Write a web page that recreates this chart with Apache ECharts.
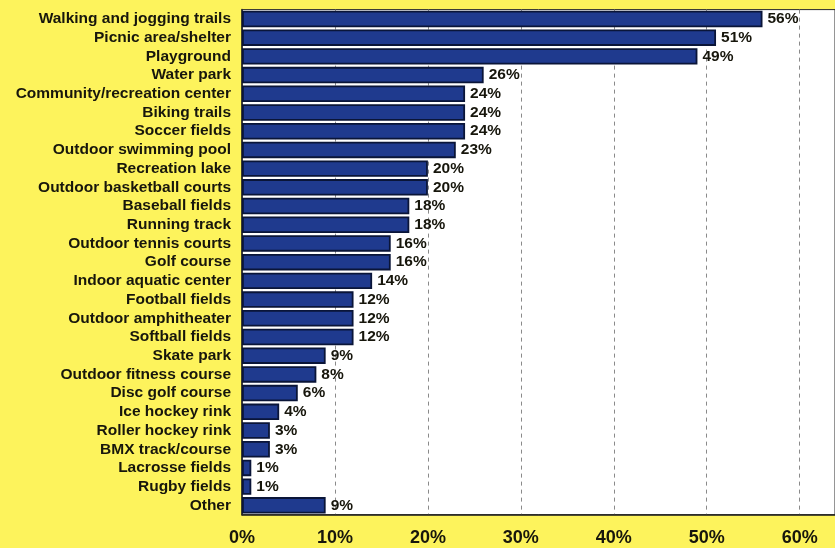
<!DOCTYPE html>
<html>
<head>
<meta charset="utf-8">
<script src="https://cdn.jsdelivr.net/npm/echarts@6/dist/echarts.min.js"></script>
<style>
  html, body { margin: 0; padding: 0; background: #fdf35c; }
  #chart { width: 835px; height: 548px; }
</style>
</head>
<body>
<div id="chart"></div>
<script>
// Facilities and share of respondents (%)
const facilities = [
  'Walking and jogging trails', 'Picnic area/shelter', 'Playground', 'Water park',
  'Community/recreation center', 'Biking trails', 'Soccer fields', 'Outdoor swimming pool',
  'Recreation lake', 'Outdoor basketball courts', 'Baseball fields', 'Running track',
  'Outdoor tennis courts', 'Golf course', 'Indoor aquatic center', 'Football fields',
  'Outdoor amphitheater', 'Softball fields', 'Skate park', 'Outdoor fitness course',
  'Disc golf course', 'Ice hockey rink', 'Roller hockey rink', 'BMX track/course',
  'Lacrosse fields', 'Rugby fields', 'Other'
];
const shares = [56, 51, 49, 26, 24, 24, 24, 23, 20, 20, 18, 18, 16, 16, 14, 12, 12, 12, 9, 8, 6, 4, 3, 3, 1, 1, 9];
const tickValues = [0, 10, 20, 30, 40, 50, 60];

const chart = echarts.init(document.getElementById('chart'));
const textColor = '#17160c';
const font = '"Liberation Sans", Arial, sans-serif';
chart.setOption({
  backgroundColor: '#fdf35c',
  animation: false,
  grid: {
    left: 242, right: -2, top: 9.6, bottom: 33.3,
    show: true, backgroundColor: '#ffffff', borderColor: '#2a2a2a', borderWidth: 1
  },
  xAxis: {
    type: 'value', min: 0, max: 63.8, interval: 10,
    axisLine: { show: true, lineStyle: { color: '#222', width: 1.5 } },
    axisTick: { show: false },
    axisLabel: {
      showMaxLabel: false,
      formatter: v => tickValues.includes(v) ? v + '%' : '',
      color: textColor, fontFamily: font,
      fontWeight: 'bold', fontSize: 18, margin: 14
    },
    splitLine: { show: true, lineStyle: { color: '#8a8a8a', type: [4, 4], width: 1 } }
  },
  yAxis: {
    type: 'category', data: facilities, inverse: true,
    axisLine: { show: true, lineStyle: { color: '#222', width: 1.5 } },
    axisTick: { show: false },
    axisLabel: {
      interval: 0,
      color: textColor, fontFamily: font,
      fontWeight: 'bold', fontSize: 15.5, margin: 11
    },
    splitLine: { show: false }
  },
  series: [{
    type: 'bar', data: shares, barCategoryGap: '12%',
    itemStyle: { color: '#1f3a8e', borderColor: '#0a1538', borderWidth: 1.8 },
    label: {
      show: true, position: 'right', distance: 5, formatter: '{c}%',
      color: textColor, fontFamily: font,
      fontWeight: 'bold', fontSize: 15.5
    }
  }]
});
</script>
</body>
</html>
